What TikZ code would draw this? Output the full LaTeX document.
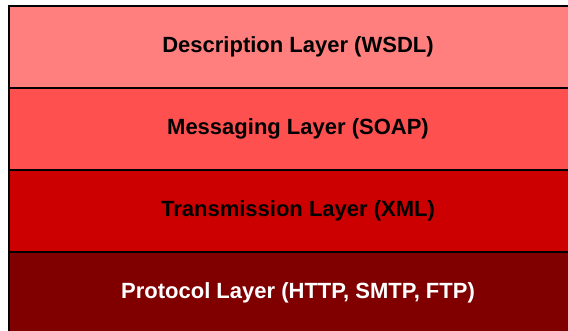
\documentclass[tikz,border=0pt]{standalone}
\usepackage{fontspec}
\setmainfont{Liberation Sans}
\usetikzlibrary{positioning}
\definecolor{wsdlred}{RGB}{255,127,127}
\definecolor{soapred}{RGB}{255,80,80}
\definecolor{xmlred}{RGB}{204,0,0}
\definecolor{protored}{RGB}{128,0,0}
\tikzset{
    x=1pt, y=1pt,
    layer/.style={draw=black, line width=1.6pt, minimum width=578pt, minimum height=82pt,
        outer sep=0pt, inner sep=0pt, font=\fontsize{22}{26}\selectfont\bfseries}, % one band of the stack
    node distance=0pt, % bands touch each other
}
\begin{document}
\begin{tikzpicture}
    \useasboundingbox (0,0) rectangle (568,331);
    \clip (0,0) rectangle (568,331);
    \node[layer, fill=wsdlred, anchor=north west] (wsdl) at (9,325) {Description Layer (WSDL)};
    \node[layer, fill=soapred, below=of wsdl] (soap) {Messaging Layer (SOAP)};
    \node[layer, fill=xmlred, below=of soap] (xml) {Transmission Layer (XML)};
    \node[layer, fill=protored, text=white, below=of xml] (proto) {Protocol Layer (HTTP, SMTP, FTP)};
\end{tikzpicture}
\end{document}
